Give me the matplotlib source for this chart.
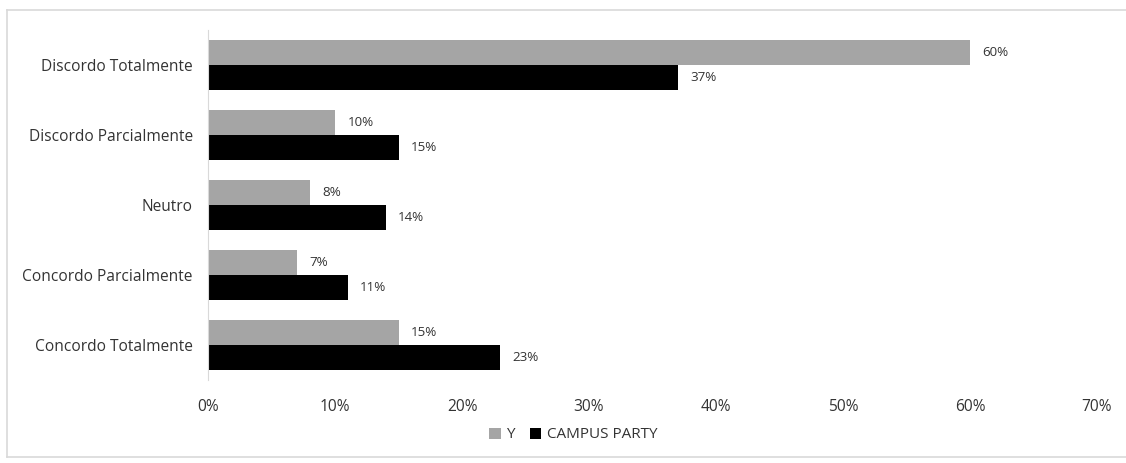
import matplotlib
matplotlib.use("Agg")
import matplotlib.pyplot as plt
from matplotlib.lines import Line2D
import numpy as np

categories = ["Discordo Totalmente", "Discordo Parcialmente", "Neutro",
              "Concordo Parcialmente", "Concordo Totalmente"]
y_values = [60, 10, 8, 7, 15]
campus_values = [37, 15, 14, 11, 23]
xticks = [0, 10, 20, 30, 40, 50, 60, 70]
series_names = ["Y", "CAMPUS PARTY"]

plt.rcParams['font.family'] = ['Open Sans', 'DejaVu Sans']
txt = '#333333'

fig = plt.figure(figsize=(11.26, 4.63), dpi=100)
# light outer frame (right side cut off in the reference)
fx0, fx1 = 7/1126, 1.0
fy0, fy1 = 1-457/463, 1-10/463
for xs, ys in (([fx0, fx1], [fy1, fy1]), ([fx0, fx1], [fy0, fy0]), ([fx0, fx0], [fy0, fy1])):
    fig.add_artist(Line2D(xs, ys, transform=fig.transFigure, color='#D9D9D9', lw=1.2))

ax = fig.add_axes([208/1126, 1-380/463, (1097-208)/1126, 350/463])

n = len(categories)
pos = np.arange(n)[::-1].astype(float)
h = 0.36
b1 = ax.barh(pos + h/2, y_values, height=h, color='#A5A5A5', label=series_names[0])
b2 = ax.barh(pos - h/2, campus_values, height=h, color='#000000', label=series_names[1])
for bars, vals in ((b1, y_values), (b2, campus_values)):
    for r, v in zip(bars, vals):
        ax.annotate(f"{v}%", (v, r.get_y() + r.get_height()/2), xytext=(9, 0),
                    textcoords='offset points', va='center', ha='left',
                    fontsize=9.6, color=txt)

ax.set_ylim(-0.5, n - 0.5)
ax.set_xlim(0, 70)
ax.set_yticks(pos)
ax.set_yticklabels(categories, fontsize=11.2, color=txt)
ax.set_xticks(xticks)
ax.set_xticklabels([f"{t}%" for t in xticks], fontsize=11.2, color=txt)
ax.tick_params(axis='both', length=0)
ax.tick_params(axis='x', pad=14)
ax.tick_params(axis='y', pad=11)
for s in ['top', 'right', 'bottom']:
    ax.spines[s].set_visible(False)
ax.spines['left'].set_color('#D9D9D9')

fig.legend(loc='center', bbox_to_anchor=(0.509, 1-435/463), ncol=2, frameon=False,
           fontsize=11, handlelength=0.75, handleheight=0.75, handletextpad=0.35,
           columnspacing=1.0, labelcolor=txt)

fig.savefig("out.png", dpi=100)
